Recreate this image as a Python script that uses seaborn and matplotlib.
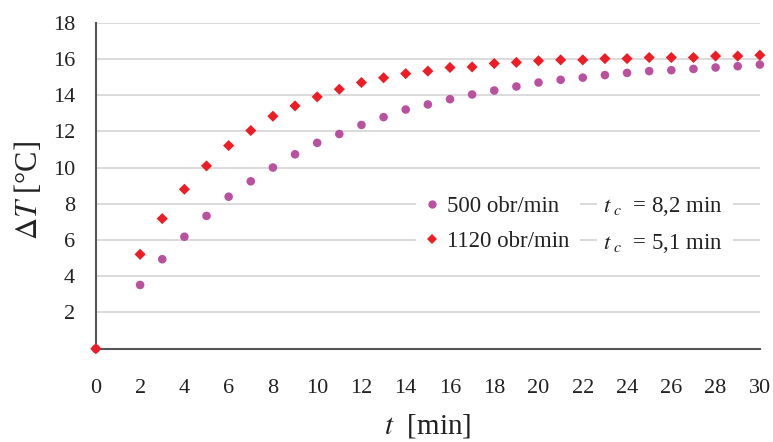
import matplotlib
matplotlib.use("Agg")
import matplotlib.pyplot as plt
from matplotlib.patches import Rectangle
from matplotlib.lines import Line2D
import numpy as np
import pandas as pd
import seaborn as sns

# Measurement times [min]
time_min = [0, 2, 3, 4, 5, 6, 7, 8, 9, 10, 11, 12, 13, 14, 15, 16, 17, 18,
            19, 20, 21, 22, 23, 24, 25, 26, 27, 28, 29, 30]

# Temperature rise [°C] for each stirring speed
dT_500 = [0.0, 3.52, 4.94, 6.18, 7.33, 8.39, 9.24, 10.0, 10.73, 11.36, 11.85,
          12.35, 12.78, 13.2, 13.48, 13.77, 14.03, 14.25, 14.47, 14.69, 14.84,
          14.96, 15.1, 15.22, 15.32, 15.37, 15.44, 15.52, 15.59, 15.68]
dT_1120 = [0.0, 5.21, 7.18, 8.8, 10.09, 11.21, 12.04, 12.83, 13.4, 13.9, 14.32,
           14.69, 14.95, 15.18, 15.32, 15.52, 15.55, 15.74, 15.8, 15.89, 15.94,
           15.94, 16.01, 16.01, 16.07, 16.07, 16.07, 16.15, 16.15, 16.2]

series_labels = ["500 obr/min", "1120 obr/min"]
tc_labels = [r"$t_{\ c}$  = 8,2 min", r"$t_{\ c}$  = 5,1 min"]
x_ticks = list(range(0, 31, 2))
y_ticks = list(range(0, 19, 2))

df = pd.DataFrame({
    "t": time_min * 2,
    "dT": dT_500 + dT_1120,
    "speed": [series_labels[0]] * len(time_min) + [series_labels[1]] * len(time_min),
})

sns.set_theme(style="white")
plt.rcParams["font.family"] = ["Liberation Serif", "DejaVu Serif"]
plt.rcParams["mathtext.fontset"] = "stix"

colors = {series_labels[0]: "#B9519F", series_labels[1]: "#EE1C25"}
markers = {series_labels[0]: "o", series_labels[1]: "D"}

fig = plt.figure(figsize=(7.73, 4.42), dpi=100)
ax = fig.add_axes([0.124, 0.211, 0.859, 0.738])

for lab in series_labels:
    sub = df[df["speed"] == lab]
    sns.scatterplot(data=sub, x="t", y="dT", ax=ax, color=colors[lab],
                    marker=markers[lab], s=38 if markers[lab] == "o" else 32,
                    edgecolor="none", zorder=4, legend=False, clip_on=False)

ax.set_xlim(0, 30)
ax.set_ylim(0, 18)
ax.set_xticks(x_ticks)
ax.set_yticks(y_ticks)
ax.set_yticklabels(["" if v == 0 else str(v) for v in y_ticks])
ax.tick_params(axis="both", labelsize=16, colors="#222222")
ax.tick_params(axis="x", direction="out", length=6, width=1.2, color="#555555", pad=16)
ax.tick_params(axis="y", direction="out", length=6, width=1.2, color="#555555", pad=9)

ax.grid(axis="y", color="#d4d4d4", linewidth=1.2, zorder=0)
ax.grid(axis="x", visible=False)
ax.set_axisbelow(True)
for side in ["top", "right"]:
    ax.spines[side].set_visible(False)
for side in ["left", "bottom"]:
    ax.spines[side].set_color("#555555")
    ax.spines[side].set_linewidth(1.5)

ax.set_xlabel(r"$t$  [min]", fontsize=21, labelpad=10, color="#222222")
ax.set_ylabel(r"$\Delta T$ [°C]", fontsize=22, color="#222222")
ax.yaxis.set_label_coords(-0.078, 0.485)

# White cells behind the key so grid lines break between entries
for x0, x1 in [(14.46, 21.87), (22.64, 28.78)]:
    ax.add_patch(Rectangle((x0, 5.4), x1 - x0, 3.2, facecolor="white",
                           edgecolor="none", zorder=2))

handles = [
    Line2D([], [], linestyle="none", marker="o", markersize=6,
           markerfacecolor=colors[series_labels[0]], markeredgewidth=0),
    Line2D([], [], linestyle="none", marker="D", markersize=5,
           markerfacecolor=colors[series_labels[1]], markeredgewidth=0),
    Line2D([], [], linestyle="none"),
    Line2D([], [], linestyle="none"),
]
leg = ax.legend(handles, series_labels + tc_labels, ncol=2, frameon=False,
                fontsize=16.5, loc="center left", bbox_to_anchor=(0.475, 0.38),
                handlelength=0.8, handletextpad=0.25, columnspacing=0.44,
                labelspacing=0.62, borderpad=0)
for t in leg.get_texts():
    t.set_color("#222222")
leg.set_zorder(5)

fig.savefig("out.png", dpi=100)
